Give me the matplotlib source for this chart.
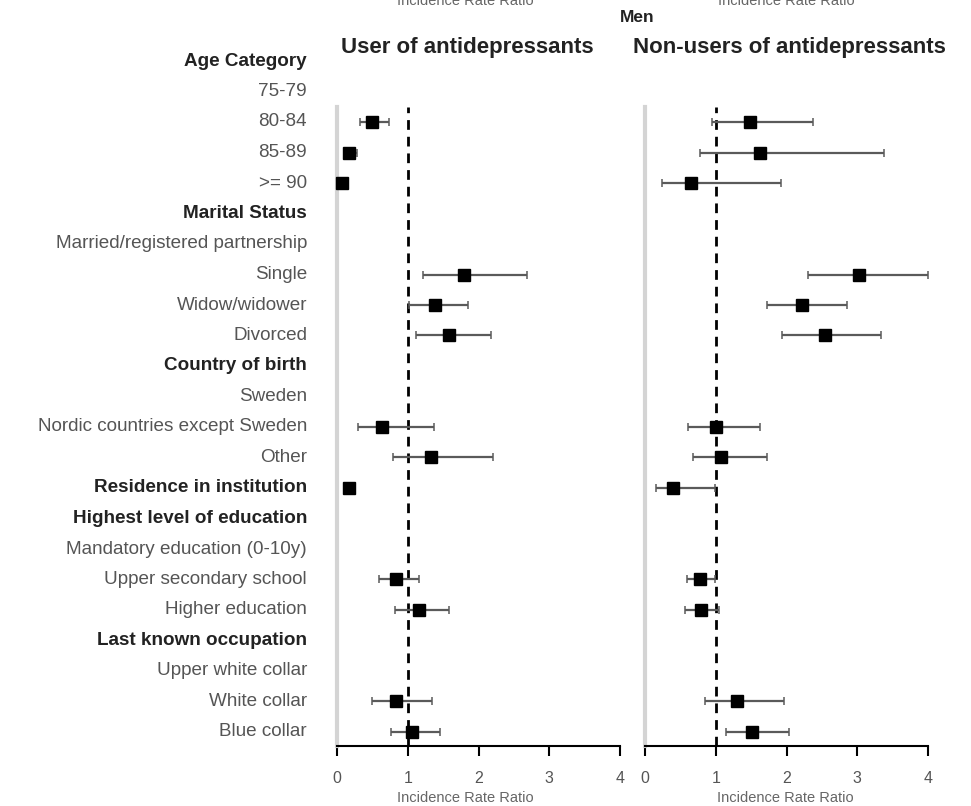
import matplotlib.pyplot as plt
from matplotlib.transforms import blended_transform_factory

plt.rcParams['font.family'] = ['Liberation Sans', 'DejaVu Sans']

# --- DATA ---------------------------------------------------------------
labels = [
    "Age Category", "75-79", "80-84", "85-89", ">= 90",
    "Marital Status", "Married/registered partnership", "Single",
    "Widow/widower", "Divorced",
    "Country of birth", "Sweden", "Nordic countries except Sweden", "Other",
    "Residence in institution",
    "Highest level of education", "Mandatory education (0-10y)",
    "Upper secondary school", "Higher education",
    "Last known occupation", "Upper white collar", "White collar", "Blue collar",
]
headers = {"Age Category", "Marital Status", "Country of birth",
           "Residence in institution", "Highest level of education",
           "Last known occupation"}

# rows with an estimate
est_rows = ["80-84", "85-89", ">= 90", "Single", "Widow/widower", "Divorced",
            "Nordic countries except Sweden", "Other", "Residence in institution",
            "Upper secondary school", "Higher education", "White collar", "Blue collar"]

users_irr = [0.50, 0.17, 0.07, 1.80, 1.39, 1.58, 0.63, 1.33, 0.17, 0.83, 1.16, 0.83, 1.06]
users_lo  = [0.33, 0.11, 0.03, 1.22, 1.02, 1.12, 0.30, 0.79, 0.12, 0.60, 0.82, 0.49, 0.76]
users_hi  = [0.73, 0.28, 0.12, 2.68, 1.85, 2.18, 1.37, 2.20, 0.25, 1.16, 1.59, 1.34, 1.45]

nonusers_irr = [1.49, 1.63, 0.65, 3.03, 2.22, 2.55, 1.00, 1.08, 0.39, 0.78, 0.79, 1.30, 1.51]
nonusers_lo  = [0.94, 0.78, 0.24, 2.31, 1.73, 1.93, 0.61, 0.68, 0.16, 0.59, 0.57, 0.85, 1.15]
nonusers_hi  = [2.37, 3.38, 1.92, 4.00, 2.86, 3.33, 1.63, 1.73, 0.99, 0.99, 1.04, 1.96, 2.03]
# -----------------------------------------------------------------------

W, H = 971, 806
fig = plt.figure(figsize=(W / 100, H / 100), dpi=100)

row_y = {lab: i for i, lab in enumerate(labels)}
y_top_px, y_bot_px = 107, 746
row0_px, row_step = 61, 30.5
ylim = ((y_bot_px - row0_px) / row_step, (y_top_px - row0_px) / row_step)


def make_axes(x0_px, x1_px):
    return fig.add_axes([x0_px / W, 1 - y_bot_px / H,
                         (x1_px - x0_px) / W, (y_bot_px - y_top_px) / H])


def draw_panel(ax, irr, lo, hi, label_x):
    ys = [row_y[r] for r in est_rows]
    ax.axvline(1, color="black", ls=(0, (3.5, 2.5)), lw=2, zorder=1)
    ax.errorbar(irr, ys,
                xerr=[[m - l for m, l in zip(irr, lo)], [h - m for m, h in zip(irr, hi)]],
                fmt="s", color="black", ms=9, ecolor="#5a5a5a", elinewidth=1.6,
                capsize=3, capthick=1.1, clip_on=False, zorder=3)
    ax.set_xlim(0, 4)
    ax.set_ylim(*ylim)
    ax.set_xticks([0, 1, 2, 3, 4])
    ax.tick_params(axis="x", direction="out", length=7, width=1.5,
                   labelsize=11.5, labelcolor="#555555", pad=11)
    ax.set_yticks([])
    for s in ("top", "right"):
        ax.spines[s].set_visible(False)
    ax.spines["bottom"].set_linewidth(1.5)
    ax.spines["left"].set_color("#d4d4d4")
    ax.spines["left"].set_linewidth(3)
    ax.set_xlabel("Incidence Rate Ratio", fontsize=10.5, color="#666666")
    ax.xaxis.set_label_coords(label_x, -45 / (y_bot_px - y_top_px))


ax1 = make_axes(337, 620)
ax2 = make_axes(645, 928)
draw_panel(ax1, users_irr, users_lo, users_hi, 0.452)
draw_panel(ax2, nonusers_irr, nonusers_lo, nonusers_hi, 0.497)

# row labels to the left of the first panel
tr = blended_transform_factory(fig.transFigure, ax1.transData)
for lab in labels:
    bold = lab in headers
    ax1.text(307 / W, row_y[lab], lab, transform=tr, ha="right", va="center",
             fontsize=13.6, fontweight="bold" if bold else "normal",
             color="#222222" if bold else "#555555", clip_on=False)

# titles
fig.text(637 / W, 1 - 17 / H, "Men", ha="center", va="center",
         fontsize=12.5, fontweight="bold", color="#222222")
fig.text(467 / W, 1 - 47 / H, "User of antidepressants", ha="center", va="center",
         fontsize=16, fontweight="bold", color="#222222")
fig.text(789 / W, 1 - 47 / H, "Non-users of antidepressants", ha="center", va="center",
         fontsize=16, fontweight="bold", color="#222222")

# axis label of the panels above, cut off by the top edge
for xc in (465, 786):
    fig.text(xc / W, 1 - 1 / H, "Incidence Rate Ratio", ha="center", va="center",
             fontsize=10.5, color="#666666")

fig.savefig("out.png", dpi=100)
